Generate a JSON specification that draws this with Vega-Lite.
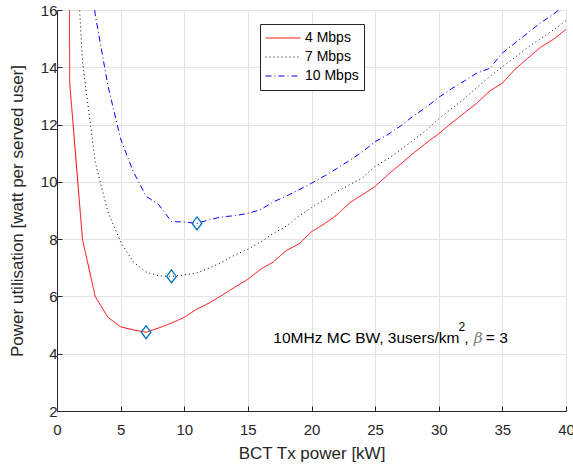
{
  "$schema": "https://vega.github.io/schema/vega-lite/v6.json",
  "width": 509,
  "height": 401,
  "autosize": {"type": "none"},
  "padding": {"left": 57, "top": 10, "right": 7, "bottom": 54},
  "background": "white",
  "config": {
    "font": "Liberation Sans",
    "view": {"stroke": null},
    "axis": {
      "domainColor": "#262626",
      "domainWidth": 1,
      "tickColor": "#262626",
      "tickSize": -5,
      "tickWidth": 1,
      "gridColor": "#E3E3E3",
      "gridWidth": 1,
      "labelColor": "#262626",
      "labelFontSize": 15,
      "labelFont": "Liberation Sans",
      "titleColor": "#262626",
      "titleFontSize": 17,
      "titleFontWeight": "normal",
      "titleFont": "Liberation Sans"
    },
    "legend": {
      "labelFont": "Liberation Sans"
    }
  },
  "datasets": {
    "curves": [
      {"series": "4 Mbps", "x": 0.5, "y": 70},
      {"series": "4 Mbps", "x": 1, "y": 13.45},
      {"series": "4 Mbps", "x": 2, "y": 8.0},
      {"series": "4 Mbps", "x": 3, "y": 6.0},
      {"series": "4 Mbps", "x": 4, "y": 5.27},
      {"series": "4 Mbps", "x": 5, "y": 4.94},
      {"series": "4 Mbps", "x": 6, "y": 4.83},
      {"series": "4 Mbps", "x": 7, "y": 4.75},
      {"series": "4 Mbps", "x": 8, "y": 4.9},
      {"series": "4 Mbps", "x": 9, "y": 5.07},
      {"series": "4 Mbps", "x": 10, "y": 5.27},
      {"series": "4 Mbps", "x": 11, "y": 5.56},
      {"series": "4 Mbps", "x": 12, "y": 5.78},
      {"series": "4 Mbps", "x": 13, "y": 6.05},
      {"series": "4 Mbps", "x": 14, "y": 6.33},
      {"series": "4 Mbps", "x": 15, "y": 6.6},
      {"series": "4 Mbps", "x": 16, "y": 6.95},
      {"series": "4 Mbps", "x": 17, "y": 7.2},
      {"series": "4 Mbps", "x": 18, "y": 7.6},
      {"series": "4 Mbps", "x": 19, "y": 7.83},
      {"series": "4 Mbps", "x": 20, "y": 8.26},
      {"series": "4 Mbps", "x": 21, "y": 8.53},
      {"series": "4 Mbps", "x": 22, "y": 8.85},
      {"series": "4 Mbps", "x": 23, "y": 9.27},
      {"series": "4 Mbps", "x": 24, "y": 9.55},
      {"series": "4 Mbps", "x": 25, "y": 9.84},
      {"series": "4 Mbps", "x": 26, "y": 10.25},
      {"series": "4 Mbps", "x": 27, "y": 10.62},
      {"series": "4 Mbps", "x": 28, "y": 11.0},
      {"series": "4 Mbps", "x": 29, "y": 11.35},
      {"series": "4 Mbps", "x": 30, "y": 11.68},
      {"series": "4 Mbps", "x": 31, "y": 12.05},
      {"series": "4 Mbps", "x": 32, "y": 12.4},
      {"series": "4 Mbps", "x": 33, "y": 12.75},
      {"series": "4 Mbps", "x": 34, "y": 13.17},
      {"series": "4 Mbps", "x": 35, "y": 13.45},
      {"series": "4 Mbps", "x": 36, "y": 13.93},
      {"series": "4 Mbps", "x": 37, "y": 14.32},
      {"series": "4 Mbps", "x": 38, "y": 14.7},
      {"series": "4 Mbps", "x": 39, "y": 14.97},
      {"series": "4 Mbps", "x": 40, "y": 15.33},
      {"series": "7 Mbps", "x": 1, "y": 22.4},
      {"series": "7 Mbps", "x": 2, "y": 14.2},
      {"series": "7 Mbps", "x": 3, "y": 10.7},
      {"series": "7 Mbps", "x": 4, "y": 8.95},
      {"series": "7 Mbps", "x": 5, "y": 7.9},
      {"series": "7 Mbps", "x": 6, "y": 7.2},
      {"series": "7 Mbps", "x": 7, "y": 6.85},
      {"series": "7 Mbps", "x": 8, "y": 6.72},
      {"series": "7 Mbps", "x": 9, "y": 6.7},
      {"series": "7 Mbps", "x": 10, "y": 6.75},
      {"series": "7 Mbps", "x": 11, "y": 6.82},
      {"series": "7 Mbps", "x": 12, "y": 7.0},
      {"series": "7 Mbps", "x": 13, "y": 7.2},
      {"series": "7 Mbps", "x": 14, "y": 7.45},
      {"series": "7 Mbps", "x": 15, "y": 7.65},
      {"series": "7 Mbps", "x": 16, "y": 7.9},
      {"series": "7 Mbps", "x": 17, "y": 8.2},
      {"series": "7 Mbps", "x": 18, "y": 8.45},
      {"series": "7 Mbps", "x": 19, "y": 8.8},
      {"series": "7 Mbps", "x": 20, "y": 9.1},
      {"series": "7 Mbps", "x": 21, "y": 9.38},
      {"series": "7 Mbps", "x": 22, "y": 9.66},
      {"series": "7 Mbps", "x": 23, "y": 9.9},
      {"series": "7 Mbps", "x": 24, "y": 10.13},
      {"series": "7 Mbps", "x": 25, "y": 10.55},
      {"series": "7 Mbps", "x": 26, "y": 10.8},
      {"series": "7 Mbps", "x": 27, "y": 11.12},
      {"series": "7 Mbps", "x": 28, "y": 11.45},
      {"series": "7 Mbps", "x": 29, "y": 11.8},
      {"series": "7 Mbps", "x": 30, "y": 12.2},
      {"series": "7 Mbps", "x": 31, "y": 12.55},
      {"series": "7 Mbps", "x": 32, "y": 12.9},
      {"series": "7 Mbps", "x": 33, "y": 13.3},
      {"series": "7 Mbps", "x": 34, "y": 13.67},
      {"series": "7 Mbps", "x": 35, "y": 14.02},
      {"series": "7 Mbps", "x": 36, "y": 14.35},
      {"series": "7 Mbps", "x": 37, "y": 14.7},
      {"series": "7 Mbps", "x": 38, "y": 15.0},
      {"series": "7 Mbps", "x": 39, "y": 15.3},
      {"series": "7 Mbps", "x": 40, "y": 15.63},
      {"series": "10 Mbps", "x": 2, "y": 19.6},
      {"series": "10 Mbps", "x": 3, "y": 15.85},
      {"series": "10 Mbps", "x": 4, "y": 13.36},
      {"series": "10 Mbps", "x": 5, "y": 11.5},
      {"series": "10 Mbps", "x": 6, "y": 10.35},
      {"series": "10 Mbps", "x": 7, "y": 9.5},
      {"series": "10 Mbps", "x": 8, "y": 9.2},
      {"series": "10 Mbps", "x": 9, "y": 8.61},
      {"series": "10 Mbps", "x": 10, "y": 8.6},
      {"series": "10 Mbps", "x": 11, "y": 8.55},
      {"series": "10 Mbps", "x": 12, "y": 8.68},
      {"series": "10 Mbps", "x": 13, "y": 8.78},
      {"series": "10 Mbps", "x": 14, "y": 8.82},
      {"series": "10 Mbps", "x": 15, "y": 8.9},
      {"series": "10 Mbps", "x": 16, "y": 9.03},
      {"series": "10 Mbps", "x": 17, "y": 9.3},
      {"series": "10 Mbps", "x": 18, "y": 9.5},
      {"series": "10 Mbps", "x": 19, "y": 9.72},
      {"series": "10 Mbps", "x": 20, "y": 9.95},
      {"series": "10 Mbps", "x": 21, "y": 10.2},
      {"series": "10 Mbps", "x": 22, "y": 10.47},
      {"series": "10 Mbps", "x": 23, "y": 10.75},
      {"series": "10 Mbps", "x": 24, "y": 11.05},
      {"series": "10 Mbps", "x": 25, "y": 11.4},
      {"series": "10 Mbps", "x": 26, "y": 11.65},
      {"series": "10 Mbps", "x": 27, "y": 11.95},
      {"series": "10 Mbps", "x": 28, "y": 12.3},
      {"series": "10 Mbps", "x": 29, "y": 12.6},
      {"series": "10 Mbps", "x": 30, "y": 12.95},
      {"series": "10 Mbps", "x": 31, "y": 13.25},
      {"series": "10 Mbps", "x": 32, "y": 13.52},
      {"series": "10 Mbps", "x": 33, "y": 13.8},
      {"series": "10 Mbps", "x": 34, "y": 13.96},
      {"series": "10 Mbps", "x": 35, "y": 14.5},
      {"series": "10 Mbps", "x": 36, "y": 14.85},
      {"series": "10 Mbps", "x": 37, "y": 15.2},
      {"series": "10 Mbps", "x": 38, "y": 15.55},
      {"series": "10 Mbps", "x": 39, "y": 15.85},
      {"series": "10 Mbps", "x": 40, "y": 16.2}
    ],
    "minima": [
      {"series": "4 Mbps", "x": 7, "y": 4.75},
      {"series": "7 Mbps", "x": 9, "y": 6.7},
      {"series": "10 Mbps", "x": 11, "y": 8.55}
    ]
  },
  "layer": [
    {
      "data": {"name": "curves"},
      "mark": {"type": "line", "clip": true, "strokeWidth": 1},
      "encoding": {
        "x": {
          "field": "x", "type": "quantitative",
          "scale": {"domain": [0, 40], "nice": false},
          "axis": {"values": [0, 5, 10, 15, 20, 25, 30, 35, 40], "title": "BCT Tx power [kW]", "labelPadding": 16, "titlePadding": 8, "labelFlush": false}
        },
        "y": {
          "field": "y", "type": "quantitative",
          "scale": {"domain": [2, 16], "nice": false, "zero": false},
          "axis": {"values": [2, 4, 6, 8, 10, 12, 14, 16], "title": "Power utilisation [watt per served user]", "labelPadding": 5, "titlePadding": 14, "labelFlush": false}
        },
        "color": {
          "field": "series", "type": "nominal",
          "scale": {"domain": ["4 Mbps", "7 Mbps", "10 Mbps"], "range": ["#FF0000", "#000000", "#0000FF"]},
          "legend": {
            "title": null,
            "orient": "none",
            "legendX": 203,
            "legendY": 14,
            "direction": "vertical",
            "strokeColor": "#262626",
            "fillColor": "white",
            "padding": 5,
            "symbolType": "stroke",
            "symbolSize": 1225,
            "symbolStrokeWidth": 1,
            "clipHeight": 18,
            "rowPadding": 1,
            "labelFontSize": 14,
            "labelColor": "#000000",
            "labelOffset": 4
          }
        },
        "strokeDash": {
          "field": "series", "type": "nominal",
          "scale": {"domain": ["4 Mbps", "7 Mbps", "10 Mbps"], "range": [[1, 0], [1, 3], [6, 3, 1, 3]]},
          "legend": null
        }
      }
    },
    {
      "data": {"name": "minima"},
      "mark": {"type": "point", "shape": "M0,-1L0.75,0L0,1L-0.75,0Z", "filled": false, "stroke": "#0072BD", "strokeWidth": 1.3, "size": 165, "opacity": 1},
      "encoding": {
        "x": {"field": "x", "type": "quantitative"},
        "y": {"field": "y", "type": "quantitative"}
      }
    },
    {
      "data": {"values": [{}]},
      "mark": {"type": "text", "align": "left", "baseline": "middle", "fontSize": 15.5, "color": "#000000", "font": "Liberation Sans"},
      "encoding": {
        "x": {"datum": 17.0, "type": "quantitative"},
        "y": {"datum": 4.55, "type": "quantitative"},
        "text": {"value": "10MHz MC BW, 3users/km"}
      }
    },
    {
      "data": {"values": [{}]},
      "mark": {"type": "text", "align": "left", "baseline": "middle", "fontSize": 12, "color": "#000000", "font": "Liberation Sans"},
      "encoding": {
        "x": {"datum": 31.55, "type": "quantitative"},
        "y": {"datum": 4.92, "type": "quantitative"},
        "text": {"value": "2"}
      }
    },
    {
      "data": {"values": [{}]},
      "mark": {"type": "text", "align": "left", "baseline": "middle", "fontSize": 15.5, "color": "#000000", "font": "Liberation Sans"},
      "encoding": {
        "x": {"datum": 32.0, "type": "quantitative"},
        "y": {"datum": 4.55, "type": "quantitative"},
        "text": {"value": ","}
      }
    },
    {
      "data": {"values": [{}]},
      "mark": {"type": "text", "align": "left", "baseline": "middle", "fontSize": 15.5, "fontStyle": "italic", "color": "#808080", "font": "DejaVu Serif"},
      "encoding": {
        "x": {"datum": 32.75, "type": "quantitative"},
        "y": {"datum": 4.55, "type": "quantitative"},
        "text": {"value": "β"}
      }
    },
    {
      "data": {"values": [{}]},
      "mark": {"type": "text", "align": "left", "baseline": "middle", "fontSize": 15.5, "color": "#000000", "font": "Liberation Sans"},
      "encoding": {
        "x": {"datum": 33.7, "type": "quantitative"},
        "y": {"datum": 4.55, "type": "quantitative"},
        "text": {"value": "= 3"}
      }
    }
  ]
}
